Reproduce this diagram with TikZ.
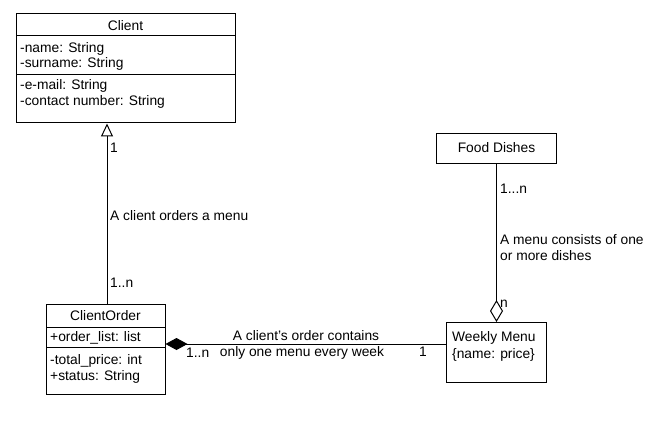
\documentclass[tikz,border=0pt]{standalone}
\usepackage{fontspec}
\setmainfont{Liberation Sans}
\usetikzlibrary{arrows.meta}
\begin{document}
\begin{tikzpicture}[x=1pt,y=-1pt,
  every node/.style={font=\fontsize{13.8}{15}\selectfont, inner sep=0pt},
  box/.style={draw, line width=1pt, inner sep=0pt},
  lbl/.style={anchor=west, text height=0.72em, text depth=0.2em},
  ttl/.style={text height=0.72em, text depth=0.2em},
  conn/.style={line width=1pt}]
\useasboundingbox (0,0) rectangle (669,433);
% Client
\node[box, minimum width=219pt, minimum height=109pt] (client) at (125.5,68.5) {};
\draw[conn] (16,36) -- (235,36);
\draw[conn] (16,75) -- (235,75);
\node[ttl] (clientT) at (125.5,27.5) {Client};
\node[lbl] (c1) at (20,49.5) {-name: String};
\node[lbl] (c2) at (20,65) {-surname: String};
\node[lbl] (c3) at (20,87) {-e-mail: String};
\node[lbl] (c4) at (20,103) {-contact number: String};
% ClientOrder
\node[box, minimum width=119pt, minimum height=90pt] (order) at (105.5,349) {};
\draw[conn] (46,327) -- (165,327);
\draw[conn] (46,347) -- (165,347);
\node[ttl] (orderT) at (105.5,318) {ClientOrder};
\node[lbl] (o1) at (50,339) {+order\_list: list};
\node[lbl] (o2) at (50,362) {-total\_price: int};
\node[lbl] (o3) at (50,378) {+status: String};
% Food Dishes
\node[box, minimum width=120pt, minimum height=29pt] (food) at (496.5,148.5) {};
\node[ttl] (foodT) at (496.5,150) {Food Dishes};
% Weekly Menu
\node[box, minimum width=100pt, minimum height=60pt] (menu) at (496.5,352.5) {};
\node[lbl] (m1) at (452,339) {Weekly Menu};
\node[lbl] (m2) at (452,356) {\{name: price\}};
% connectors
\coordinate (lx) at (107,0);
\coordinate (hy) at (0,344);
\draw[conn, -{Triangle[open, length=13pt, width=12pt]}] (order.north -| lx) -- (client.south -| lx);
\draw[conn, -{Diamond[length=22pt, width=12pt]}] (menu.west |- hy) -- (order.east |- hy);
\draw[conn, -{Diamond[open, length=22pt, width=13pt]}] (food.south) -- (menu.north);
% labels
\node[lbl] (l1) at (110,150) {1};
\node[lbl] (l2) at (110,218) {A client orders a menu};
\node[lbl] (l3) at (110,285) {1..n};
\node[ttl] (l4) at (306,338) {A client's order contains};
\node[ttl] (l5) at (302,354) {only one menu every week};
\node[lbl] (l6) at (186,355) {1..n};
\node[lbl] (l7) at (419,354) {1};
\node[lbl] (l8) at (500,191) {1...n};
\node[lbl] (l9) at (500,242) {A menu consists of one};
\node[lbl] (l10) at (500,258) {or more dishes};
\node[lbl] (l11) at (500,305) {n};
\end{tikzpicture}
\end{document}
